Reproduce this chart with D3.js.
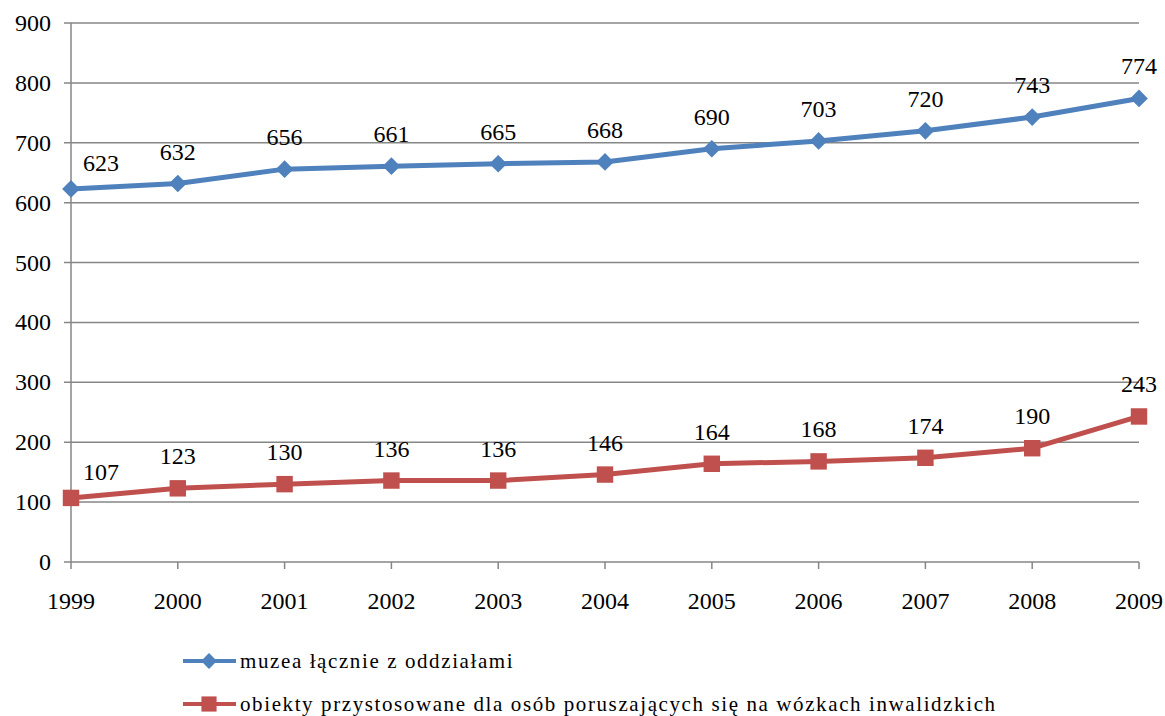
<!DOCTYPE html>
<html><head><meta charset="utf-8">
<script src="https://cdn.jsdelivr.net/npm/d3@7"></script>
</head><body style="margin:0"><svg id="c" width="1165" height="716" style="display:block"></svg>
<script>
const years = ["1999","2000","2001","2002","2003","2004","2005","2006","2007","2008","2009"];
const muzea = [623,632,656,661,665,668,690,703,720,743,774];
const obiekty = [107,123,130,136,136,146,164,168,174,190,243];
const yTicks = [0,100,200,300,400,500,600,700,800,900];
const seriesNames = ["muzea łącznie z oddziałami","obiekty przystosowane dla osób poruszających się na wózkach inwalidzkich"];
const colors = ["#4F81BD","#C0504D"];

const svg = d3.select("#c");
const x = d3.scalePoint().domain(years).range([71,1139]);
const y = d3.scaleLinear().domain([0,900]).range([562,23]);

function serif(sel, size){
  return sel.attr("font-family","Liberation Serif").attr("font-size",size)
    .style("font-family","Liberation Serif, Tinos, Times New Roman, serif","important")
    .style("font-size",size+"px");
}

svg.append("g").selectAll("line").data(yTicks).join("line")
  .attr("x1",64).attr("x2",1139).attr("y1",d=>y(d)).attr("y2",d=>y(d))
  .attr("stroke","#868686").attr("stroke-width",1.5);
svg.append("line").attr("x1",71).attr("x2",71).attr("y1",23).attr("y2",562).attr("stroke","#868686").attr("stroke-width",1.5);
svg.append("g").selectAll("line").data(years).join("line")
  .attr("x1",d=>x(d)).attr("x2",d=>x(d)).attr("y1",562).attr("y2",569)
  .attr("stroke","#868686").attr("stroke-width",1.5);
serif(svg.append("g").selectAll("text").data(yTicks).join("text")
  .attr("x",51).attr("y",d=>y(d)+8).attr("text-anchor","end"),24).text(d=>d);
serif(svg.append("g").selectAll("text").data(years).join("text")
  .attr("x",d=>x(d)).attr("y",609).attr("text-anchor","middle"),24).text(d=>d);

const line = d3.line().x((d,i)=>x(years[i])).y(d=>y(d));
[muzea, obiekty].forEach((vals,si)=>{
  svg.append("path").datum(vals).attr("d",line).attr("fill","none")
    .attr("stroke",colors[si]).attr("stroke-width",5).attr("stroke-linejoin","round");
  const sym = si===0 ? d3.symbol().type(d3.symbolDiamond2).size(200) : d3.symbol().type(d3.symbolSquare).size(270);
  svg.append("g").selectAll("path").data(vals).join("path")
    .attr("transform",(d,i)=>`translate(${x(years[i])},${y(d)})`)
    .attr("d",sym).attr("fill",colors[si]);
  serif(svg.append("g").selectAll("text").data(vals).join("text")
    .attr("x",(d,i)=>x(years[i]) + (i===0?30:0))
    .attr("y",(d,i)=>y(d)-(i===0?18:24))
    .attr("text-anchor","middle"),24).text(d=>d);
});

const leg = svg.append("g");
seriesNames.forEach((n,i)=>{
  const ly = 661 + i*43;
  leg.append("line").attr("x1",183).attr("x2",236).attr("y1",ly).attr("y2",ly).attr("stroke",colors[i]).attr("stroke-width",4);
  const sym = i===0 ? d3.symbol().type(d3.symbolDiamond2).size(160) : d3.symbol().type(d3.symbolSquare).size(230);
  leg.append("path").attr("transform",`translate(209,${ly})`).attr("d",sym).attr("fill",colors[i]);
  serif(leg.append("text").attr("x",240).attr("y",ly+7),21).style("letter-spacing","1.6px").text(n);
});
</script></body></html>
